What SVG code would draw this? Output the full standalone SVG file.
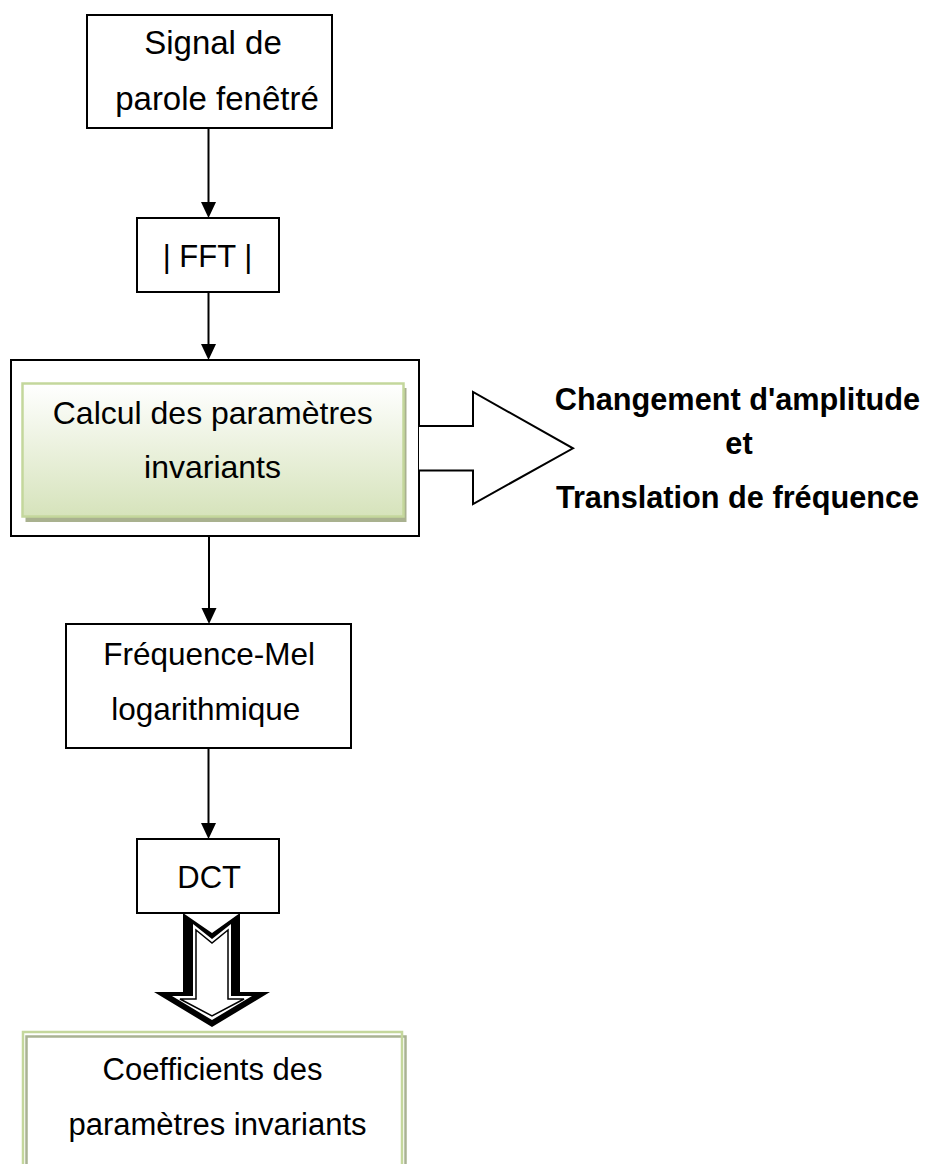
<svg xmlns="http://www.w3.org/2000/svg" width="936" height="1164" viewBox="0 0 936 1164">
  <style>
    .box { fill: #ffffff; stroke: #000000; stroke-width: 2; }
    .lbl { font-family: "Liberation Sans", Arial, sans-serif; font-size: 31px; fill: #000000; text-anchor: middle; }
    .big { font-size: 33px; }
    .mid { font-size: 32px; }
    .bold { font-family: "Liberation Sans", Arial, sans-serif; font-size: 30.7px; font-weight: bold; fill: #000000; text-anchor: middle; }
    .wire { stroke: #000000; stroke-width: 2; fill: none; }
    .head { fill: #000000; }
  </style>
  <defs>
    <linearGradient id="greenFill" x1="0" y1="0" x2="0" y2="1">
      <stop offset="0" stop-color="#ffffff"/>
      <stop offset="1" stop-color="#d6e3bb"/>
    </linearGradient>
  </defs>

  <!-- Windowed speech signal -->
  <g id="signal">
    <rect class="box" x="87" y="15" width="245" height="113"/>
    <text class="lbl big" x="213" y="54">Signal de</text>
    <text class="lbl big" x="217" y="110">parole fenêtré</text>
  </g>

  <!-- Magnitude spectrum -->
  <g id="fft">
    <rect class="box" x="137" y="218" width="142" height="74"/>
    <text class="lbl" x="207.5" y="267">| FFT |</text>
  </g>

  <!-- Invariant parameter stage: outer frame, shaded block and output arrow -->
  <g id="invariants">
    <rect class="box" x="11" y="360" width="408" height="176"/>
    <rect x="25.5" y="388" width="381" height="134" fill="#a9b18f"/>
    <rect x="22.5" y="383.5" width="381" height="133" fill="url(#greenFill)" stroke="#c4d79c" stroke-width="2.5"/>
    <text class="lbl mid" x="212.8" y="424">Calcul des paramètres</text>
    <text class="lbl mid" x="212.5" y="478.3">invariants</text>
    <path d="M419,426 H473 V392 L573,448.3 L473,504 V470.5 H419" fill="#ffffff" stroke="#000000" stroke-width="2" stroke-linejoin="miter"/>
  </g>

  <!-- Effect description -->
  <g id="effect">
    <text class="bold" x="737.5" y="410">Changement d'amplitude</text>
    <text class="bold" x="739" y="454">et</text>
    <text class="bold" x="737.5" y="508.3">Translation de fréquence</text>
  </g>

  <!-- Log Mel frequency -->
  <g id="mel">
    <rect class="box" x="66" y="624" width="285" height="124"/>
    <text class="lbl" x="209.2" y="665" style="font-size:31.5px">Fréquence-Mel</text>
    <text class="lbl" x="205.8" y="720" style="font-size:31.5px">logarithmique</text>
  </g>

  <!-- Discrete cosine transform -->
  <g id="dct">
    <rect class="box" x="137" y="839" width="142" height="74"/>
    <text class="lbl" x="209.2" y="888">DCT</text>
  </g>

  <!-- Resulting coefficients -->
  <g id="coefficients">
    <rect x="26.5" y="1036.5" width="379" height="140" fill="none" stroke="#a9b293" stroke-width="2.5"/>
    <rect x="23" y="1032" width="379" height="140" fill="none" stroke="#c4d79c" stroke-width="2.5"/>
    <text class="lbl" x="212.5" y="1080">Coefficients des</text>
    <text class="lbl" x="217.5" y="1135">paramètres invariants</text>
  </g>

  <!-- Connectors -->
  <g id="connectors">
    <line class="wire" x1="208.5" y1="128" x2="208.5" y2="204"/>
    <polygon class="head" points="201,202 216,202 208.5,218"/>
    <line class="wire" x1="208.5" y1="292" x2="208.5" y2="346"/>
    <polygon class="head" points="201,344 216,344 208.5,360"/>
    <line class="wire" x1="209" y1="536" x2="209" y2="610"/>
    <polygon class="head" points="201.5,608 216.5,608 209,624"/>
    <line class="wire" x1="208.5" y1="748" x2="208.5" y2="825"/>
    <polygon class="head" points="201,823 216,823 208.5,839"/>

    <!-- Hollow block arrow from DCT to the coefficients -->
    <g id="blockArrow">
      <polygon points="183,913 212,933 240,913 240,992 270,992 212,1027 154,992 183,992" fill="#000000"/>
      <polygon points="193,924 212,939 231,924 231,996 252,996 212,1020 172,996 193,996" fill="#ffffff"/>
      <polygon points="196,930 212,943 228,930 228,999 244,999 212,1016 180,999 196,999" fill="#ffffff" stroke="#000000" stroke-width="1.5"/>
    </g>
  </g>
</svg>
